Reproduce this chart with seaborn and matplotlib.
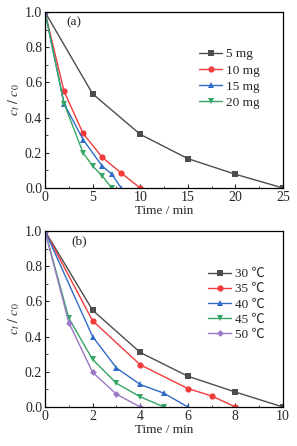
import pandas as pd
import numpy as np
import matplotlib
matplotlib.use("Agg")
import matplotlib.pyplot as plt
import seaborn as sns
from matplotlib.ticker import AutoMinorLocator

sns.set_theme(style="ticks")
plt.rcParams['font.family'] = ['Liberation Serif', 'Noto Sans CJK SC', 'DejaVu Sans']
plt.rcParams['mathtext.fontset'] = 'stix'
plt.rcParams['xtick.direction'] = 'in'
plt.rcParams['ytick.direction'] = 'in'

# panel (a): catalyst dosage
dose_labels = ['5 mg', '10 mg', '15 mg', '20 mg']
dose_t = [
    [0, 5, 10, 15, 20, 25],
    [0, 2, 4, 6, 8, 10],
    [0, 2, 4, 6, 7, 8],
    [0, 2, 4, 5, 6, 7],
]
dose_c = [
    [1.0, 0.535, 0.305, 0.167, 0.078, 0.0],
    [1.0, 0.55, 0.31, 0.175, 0.085, 0.0],
    [1.0, 0.48, 0.275, 0.125, 0.08, 0.0],
    [1.0, 0.48, 0.20, 0.125, 0.07, 0.0],
]

# panel (b): temperature
temp_labels = ['30 ℃', '35 ℃', '40 ℃', '45 ℃', '50 ℃']
temp_t = [
    [0, 2, 4, 6, 8, 10],
    [0, 2, 4, 6, 7, 8],
    [0, 2, 3, 4, 5, 6],
    [0, 1, 2, 3, 4, 5],
    [0, 1, 2, 3, 4],
]
temp_c = [
    [1.0, 0.55, 0.31, 0.175, 0.085, 0.0],
    [1.0, 0.49, 0.24, 0.105, 0.063, 0.0],
    [1.0, 0.40, 0.222, 0.128, 0.078, 0.0],
    [1.0, 0.505, 0.27, 0.135, 0.058, 0.0],
    [1.0, 0.48, 0.197, 0.073, 0.0],
]

colors = ['#4d4d4d', '#f23b3b', '#2f6cc6', '#35a565', '#9b78c6']
markers = ['s', 'o', '^', 'v', 'D']


def to_frame(labels, ts, cs):
    rows = []
    for lab, t, c in zip(labels, ts, cs):
        for ti, ci in zip(t, c):
            rows.append({'series': lab, 'time': ti, 'ratio': ci})
    return pd.DataFrame(rows)


def draw_panel(ax, labels, ts, cs, xmax, xstep, tag, tag_pos, legend_anchor, spacing):
    df = to_frame(labels, ts, cs)
    sizes = [4.5, 4.5, 5, 5, 3.5]
    for i, lab in enumerate(labels):
        sub = df[df['series'] == lab]
        sns.lineplot(data=sub, x='time', y='ratio', ax=ax, color=colors[i],
                     marker=markers[i], markersize=sizes[i], markeredgewidth=0,
                     linewidth=1.0, label=lab, sort=False)
    ax.set_xlim(0, xmax)
    ax.set_ylim(0, 1.0)
    ax.set_xticks(np.arange(0, xmax + 0.01, xstep))
    ax.set_yticks(np.arange(0, 1.01, 0.2))
    ax.set_yticklabels([f'{v:.1f}' for v in np.arange(0, 1.01, 0.2)])
    ax.xaxis.set_minor_locator(AutoMinorLocator(2))
    ax.yaxis.set_minor_locator(AutoMinorLocator(2))
    ax.tick_params(which='major', length=3, width=0.8, labelsize=10, pad=2,
                   top=False, right=False)
    ax.tick_params(which='minor', length=1.8, width=0.6, top=False, right=False)
    for s in ax.spines.values():
        s.set_linewidth(0.9)
        s.set_color('black')
    ax.set_xlabel('Time / min', fontsize=9.5, labelpad=1)
    ax.set_ylabel(r'$c_t\ /\ c_0$', fontsize=10, labelpad=2)
    ax.text(tag_pos[0], tag_pos[1], tag, transform=ax.transAxes, fontsize=9.5, va='center')
    ax.legend(loc='upper left', bbox_to_anchor=legend_anchor, frameon=False,
              fontsize=9.5, handlelength=1.75, labelspacing=spacing, handletextpad=0.3,
              borderpad=0, borderaxespad=0)


fig = plt.figure(figsize=(2.97, 4.46), dpi=100)
ax1 = fig.add_axes([45 / 297, 1 - 188 / 446, 238 / 297, 176 / 446])
ax2 = fig.add_axes([45 / 297, 1 - 407 / 446, 238 / 297, 176 / 446])

draw_panel(ax1, dose_labels, dose_t, dose_c, 25, 5, '(a)', (0.09, 0.94),
           (0.647, 0.795), 0.3)
draw_panel(ax2, temp_labels, temp_t, temp_c, 10, 2, '(b)', (0.11, 0.94),
           (0.685, 0.79), 0.22)

fig.savefig('out.png', dpi=100)
